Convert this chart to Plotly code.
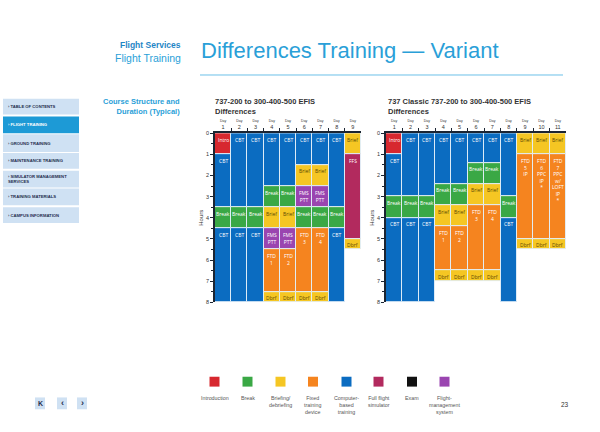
import plotly.graph_objects as go

W, H = 600, 432

# ---------------- data ----------------
kind_colors = {
    "intro": "#d7282f", "break": "#3aa845", "brief": "#f5c623", "ftd": "#f5841f",
    "cbt": "#0b6cc1", "ffs": "#b22a5e", "exam": "#111111", "fms": "#9a45b0",
}

left_days = [1, 2, 3, 4, 5, 6, 7, 8, 9]
left_day = [1, 1, 1, 1, 2, 2, 2, 3, 3, 3, 4, 4, 4, 4, 4, 4, 5, 5, 5, 5, 5, 5,
            6, 6, 6, 6, 6, 6, 7, 7, 7, 7, 7, 7, 8, 8, 8, 9, 9, 9]
left_start = [0, 1, 3.5, 4.5, 0, 3.5, 4.5, 0, 3.5, 4.5,
              0, 2.5, 3.5, 4.5, 5.5, 7.5, 0, 2.5, 3.5, 4.5, 5.5, 7.5,
              0, 1.5, 2.5, 3.5, 4.5, 7.5, 0, 1.5, 2.5, 3.5, 4.5, 7.5,
              0, 3.5, 4.5, 0, 1, 5]
left_end = [1, 3.5, 4.5, 8, 3.5, 4.5, 8, 3.5, 4.5, 8,
            2.5, 3.5, 4.5, 5.5, 7.5, 8, 2.5, 3.5, 4.5, 5.5, 7.5, 8,
            1.5, 2.5, 3.5, 4.5, 7.5, 8, 1.5, 2.5, 3.5, 4.5, 7.5, 8,
            3.5, 4.5, 8, 1, 5, 5.5]
left_kind = ["intro", "cbt", "break", "cbt", "cbt", "break", "cbt", "cbt", "break", "cbt",
             "cbt", "break", "brief", "fms", "ftd", "brief", "cbt", "break", "brief", "fms", "ftd", "brief",
             "cbt", "brief", "fms", "break", "ftd", "brief", "cbt", "brief", "fms", "break", "ftd", "brief",
             "cbt", "break", "cbt", "brief", "ffs", "brief"]
left_label = ["Intro", "CBT", "Break", "CBT", "CBT", "Break", "CBT", "CBT", "Break", "CBT",
              "CBT", "Break", "Brief", "FMS<br>PTT", "FTD<br>1", "Dbrf",
              "CBT", "Break", "Brief", "FMS<br>PTT", "FTD<br>2", "Dbrf",
              "CBT", "Brief", "FMS<br>PTT", "Break", "FTD<br>3", "Dbrf",
              "CBT", "Brief", "FMS<br>PTT", "Break", "FTD<br>4", "Dbrf",
              "CBT", "Break", "CBT", "Brief", "FFS", "Dbrf"]

right_days = [1, 2, 3, 4, 5, 6, 7, 8, 9, 10, 11]
right_day = [1, 1, 1, 1, 2, 2, 2, 3, 3, 3, 4, 4, 4, 4, 4, 5, 5, 5, 5, 5,
             6, 6, 6, 6, 6, 7, 7, 7, 7, 7, 8, 8, 8, 9, 9, 9, 10, 10, 10, 11, 11, 11]
right_start = [0, 1, 3, 4, 0, 3, 4, 0, 3, 4,
               0, 2.4, 3.4, 4.4, 6.5, 0, 2.4, 3.4, 4.4, 6.5,
               0, 1.4, 2.4, 3.4, 6.5, 0, 1.4, 2.4, 3.4, 6.5,
               0, 3, 4, 0, 1, 5, 0, 1, 5, 0, 1, 5]
right_end = [1, 3, 4, 8, 3, 4, 8, 3, 4, 8,
             2.4, 3.4, 4.4, 6.5, 7, 2.4, 3.4, 4.4, 6.5, 7,
             1.4, 2.4, 3.4, 6.5, 7, 1.4, 2.4, 3.4, 6.5, 7,
             3, 4, 8, 1, 5, 5.5, 1, 5, 5.5, 1, 5, 5.5]
right_kind = ["intro", "cbt", "break", "cbt", "cbt", "break", "cbt", "cbt", "break", "cbt",
              "cbt", "break", "brief", "ftd", "brief", "cbt", "break", "brief", "ftd", "brief",
              "cbt", "break", "brief", "ftd", "brief", "cbt", "break", "brief", "ftd", "brief",
              "cbt", "break", "cbt", "brief", "ftd", "brief", "brief", "ftd", "brief", "brief", "ftd", "brief"]
right_label = ["Intro", "CBT", "Break", "CBT", "CBT", "Break", "CBT", "CBT", "Break", "CBT",
               "CBT", "Break", "Brief", "FTD<br>1", "Dbrf", "CBT", "Break", "Brief", "FTD<br>2", "Dbrf",
               "CBT", "Break", "Brief", "FTD<br>3", "Dbrf", "CBT", "Break", "Brief", "FTD<br>4", "Dbrf",
               "CBT", "Break", "CBT",
               "Brief", "FTD<br>5<br>IP", "Dbrf",
               "Brief", "FTD<br>6<br>PPC<br>IP<br>*", "Dbrf",
               "Brief", "FTD<br>7<br>PPC<br>w/<br>LOFT<br>IP<br>*", "Dbrf"]

hour_ticks = [0, 1, 2, 3, 4, 5, 6, 7, 8]

legend_kinds = ["intro", "break", "brief", "ftd", "cbt", "ffs", "exam", "fms"]
legend_names = ["Introduction", "Break", "Briefing/<br>debriefing", "Fixed<br>training<br>device",
                "Computer-<br>based<br>training", "Full flight<br>simulator", "Exam",
                "Flight-<br>management<br>system"]

nav_items = ["TABLE OF CONTENTS", "FLIGHT TRAINING", "GROUND TRAINING", "MAINTENANCE TRAINING",
             "SIMULATOR MANAGEMENT<br>SERVICES", "TRAINING MATERIALS", "CAMPUS INFORMATION"]

# ---------------- helpers ----------------
def X(px):
    return px / W

def Y(py):
    return 1 - py / H

FONT = "Liberation Sans, Arial, sans-serif"
CELLFONT = "Open Sans, Liberation Sans, sans-serif"
BLUE = "#2a9fd8"

fig = go.Figure()
ann = []
shapes = []

def add_grid(day, start, end, kind, label, xa, ya):
    colors = [kind_colors[k] for k in kind]
    fig.add_trace(go.Bar(
        x=day, y=[e - s for s, e in zip(start, end)], base=start,
        marker=dict(color=colors, line=dict(color="rgba(225,238,248,0.95)", width=1)),
        width=1.0, xaxis=xa, yaxis=ya, showlegend=False, hoverinfo="skip",
    ))
    for d, s, k, t in zip(day, start, kind, label):
        ann.append(dict(xref=xa, yref=ya, x=d, y=s, text=t, showarrow=False,
                        xanchor="center", yanchor="top", yshift=-1.5, align="center",
                        font=dict(size=5, family=CELLFONT,
                                  color="#5b4a05" if k == "brief" else "white")))

add_grid(left_day, left_start, left_end, left_kind, left_label, "x", "y")
add_grid(right_day, right_start, right_end, right_kind, right_label, "x2", "y2")

def xaxis_cfg(days, dom, anchor):
    return dict(
        domain=dom, range=[0.5, len(days) + 0.5], side="top", anchor=anchor,
        tickvals=days,
        ticktext=["<span style='font-size:3.5px'>Day</span><br>%d" % d for d in days],
        tickfont=dict(size=5.5, color="#333", family=FONT),
        ticks="", showline=True, linecolor="#1b2533", linewidth=1.5,
        showgrid=False, zeroline=False, fixedrange=True,
        minor=dict(tickvals=[d + 0.5 for d in days[:-1]], ticks="outside", ticklen=3,
                   tickcolor="#1b2533"),
    )

def yaxis_cfg(dom, title, anchor):
    return dict(
        domain=dom, range=[8, 0], tickvals=hour_ticks, anchor=anchor,
        tickfont=dict(size=5.5, color="#333", family=FONT),
        ticks="outside", ticklen=3, tickcolor="#1b2533",
        minor=dict(dtick=0.5, ticks="outside", ticklen=2, tickcolor="#1b2533"),
        showline=True, linecolor="#1b2533", linewidth=1.5,
        showgrid=False, zeroline=False, fixedrange=True,
        title=dict(text=title, font=dict(size=6, color="#333", family=FONT), standoff=2),
    )

ydom = [Y(303.5), Y(132)]
xa1 = xaxis_cfg(left_days, [X(215), X(361)], "y")
xa2 = xaxis_cfg(right_days, [X(386), X(566)], "y2")
ya1 = yaxis_cfg(ydom, "Hours", "x")
ya2 = yaxis_cfg(ydom, "Hours", "x2")

def note(px, py, text, size, color, xanchor="left", yanchor="middle", align="left"):
    ann.append(dict(xref="paper", yref="paper", x=X(px), y=Y(py), text=text, showarrow=False,
                    xanchor=xanchor, yanchor=yanchor, align=align,
                    font=dict(size=size, color=color, family=FONT)))

def rect(x0, x1, y0, y1, color):
    shapes.append(dict(type="rect", xref="paper", yref="paper", x0=X(x0), x1=X(x1),
                       y0=Y(y1), y1=Y(y0), line=dict(width=0), fillcolor=color, layer="below"))

# header
note(199, 48, "Differences Training — Variant", 22, BLUE)
note(183, 43, "<b>Flight Services</b>", 8.5, "#1f86c6", xanchor="right")
note(183, 56, "Flight Training", 10.5, BLUE, xanchor="right")
shapes.append(dict(type="line", xref="paper", yref="paper", x0=X(200), x1=X(563), y0=Y(73), y1=Y(73),
                   line=dict(color="#6cc0e8", width=1)))

# section headings
note(182, 105, "<b>Course Structure and<br>Duration (Typical)</b>", 7.5, BLUE, xanchor="right", align="right")
note(213, 105, "<b>737-200 to 300-400-500 EFIS<br>Differences</b>", 7.5, "#333")
note(386, 105, "<b>737 Classic 737-200 to 300-400-500 EFIS<br>Differences</b>", 7.5, "#333")

# nav boxes
nav_tops = [97, 115, 133, 152, 170, 188, 207]
nav_bots = [113, 132, 151, 168, 187, 205, 223]
for i, item in enumerate(nav_items):
    active = i == 1
    rect(3, 79, nav_tops[i], nav_bots[i], "#1d9ad6" if active else "#cfe1f3")
    note(6, (nav_tops[i] + nav_bots[i]) / 2, "<b>› " + item + "</b>", 4.2,
         "white" if active else "#1f2d4d")

# legend
leg_cx = [214.5, 247.5, 280.5, 313, 346.5, 378.5, 412, 444.5]
for i, k in enumerate(legend_kinds):
    rect(leg_cx[i] - 5, leg_cx[i] + 5, 379, 389, kind_colors[k])
    note(leg_cx[i], 395, legend_names[i], 5.3, "#555", xanchor="center", yanchor="top", align="center")

note(565, 407, "23", 6.5, "#333", xanchor="center")

# page arrows
arrow_x = [40, 62, 82]
arrow_t = ["<b>K</b>", "<b>‹</b>", "<b>›</b>"]
arrow_s = [7, 9, 9]
for ax_, t, s in zip(arrow_x, arrow_t, arrow_s):
    rect(ax_ - 5, ax_ + 5, 400, 412, "#cfe1f3")
    note(ax_, 406, t, s, "#1f2d4d", xanchor="center")

fig.update_layout(
    width=W, height=H, autosize=False,
    margin=dict(l=0, r=0, t=0, b=0),
    paper_bgcolor="white", plot_bgcolor="white",
    barmode="overlay", bargap=0,
    xaxis=xa1, yaxis=ya1, xaxis2=xa2, yaxis2=ya2,
    shapes=shapes, annotations=ann,
    font=dict(family=FONT),
)

fig.write_html("out.html", config={"displayModeBar": False},
               post_script="document.body.style.margin='0';")
